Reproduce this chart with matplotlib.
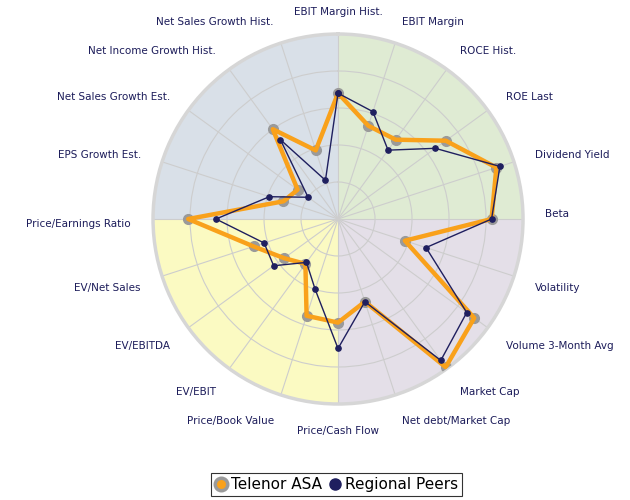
import numpy as np
import matplotlib.pyplot as plt

# axes, clockwise from the top
categories = ['EBIT Margin Hist.', 'EBIT Margin', 'ROCE Hist.', 'ROE Last',
              'Dividend Yield', 'Beta', 'Volatility', 'Volume 3-Month Avg',
              'Market Cap', 'Net debt/Market Cap', 'Price/Cash Flow',
              'Price/Book Value', 'EV/EBIT', 'EV/EBITDA', 'EV/Net Sales',
              'Price/Earnings Ratio', 'EPS Growth Est.', 'Net Sales Growth Est.',
              'Net Income Growth Hist.', 'Net Sales Growth Hist.']
telenor = [0.68, 0.53, 0.53, 0.72, 0.90, 0.83, 0.38, 0.91, 0.99, 0.47,
           0.56, 0.55, 0.30, 0.36, 0.48, 0.81, 0.31, 0.27, 0.60, 0.39]
peers = [0.68, 0.61, 0.46, 0.65, 0.92, 0.83, 0.50, 0.86, 0.945, 0.47,
         0.70, 0.40, 0.29, 0.43, 0.42, 0.66, 0.39, 0.20, 0.53, 0.22]
quadrant_colors = ['#dfebd3', '#e4dfe8', '#fbfac2', '#d9e0e8']

n = len(categories)
theta = np.arange(n) * 2 * np.pi / n
text_col = '#1c1c5a'

fig = plt.figure(figsize=(6.3, 5), dpi=100)
ax = fig.add_axes([0.2429, 0.192, 0.5873, 0.74], projection='polar')
ax.set_theta_zero_location('N')
ax.set_theta_direction(-1)
ax.set_ylim(0, 1)

# coloured quadrants
for i, c in enumerate(quadrant_colors):
    ax.bar(np.pi / 4 + i * np.pi / 2, 1, width=np.pi / 2, bottom=0,
           color=c, edgecolor='none', zorder=1)

ax.set_thetagrids(np.degrees(theta), [''] * n)
ax.set_rgrids([0.2, 0.4, 0.6, 0.8], [''] * 4)
ax.grid(color='#cdcdcd', linewidth=0.8)
ax.spines['polar'].set_color('#d6d6d6')
ax.spines['polar'].set_linewidth(2.5)

tt = np.append(theta, theta[0])
tel_closed = np.append(telenor, telenor[0])
# grey dots sit under the thick orange line
ax.plot(theta, telenor, linestyle='none', marker='o', markersize=7,
        color='#9a9a9a', zorder=2.8)
ax.plot(tt, tel_closed, color='#f9a11b', lw=3.2, zorder=3)
ax.plot(tt, np.append(peers, peers[0]), color='#1f1f5f', lw=1, zorder=4,
        marker='o', markersize=3.8, markerfacecolor='#1f1f5f',
        markeredgecolor='#1f1f5f')

# axis labels
for t, name in zip(theta, categories):
    deg = np.degrees(t)
    if deg == 0 or deg == 180:
        ha = 'center'
    elif deg < 180:
        ha = 'left'
    else:
        ha = 'right'
    if deg == 90:
        va = 'bottom'
    elif 90 < deg <= 270:
        va = 'top'
    else:
        va = 'center'
    ax.text(t, 1.12, name, ha=ha, va=va, fontsize=7.5, color=text_col,
            clip_on=False)

# legend handles
h1 = plt.Line2D([], [], linestyle='none', marker='o', markersize=9,
                markerfacecolor='#f9a11b', markeredgecolor='#9a9a9a',
                markeredgewidth=2.5)
h2 = plt.Line2D([], [], linestyle='none', marker='o', markersize=8,
                color='#1f1f5f')
leg = fig.legend([h1, h2], ['Telenor ASA', 'Regional Peers'], loc='center',
                 bbox_to_anchor=(336.5 / 630, 1 - 484.5 / 500),
                 ncol=2, frameon=True, fancybox=False, edgecolor='black',
                 fontsize=11, handlelength=0.8, handletextpad=0.3,
                 columnspacing=0.4, borderpad=0.25, borderaxespad=0)
leg.get_frame().set_linewidth(0.8)

fig.savefig('out.png', dpi=100)
